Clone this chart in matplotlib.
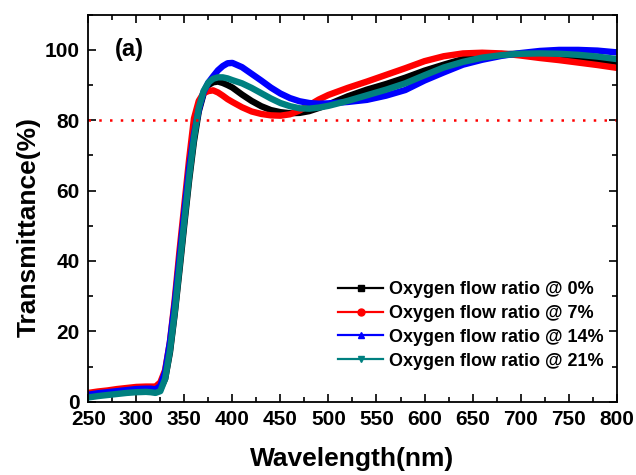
import matplotlib
matplotlib.use("Agg")
import matplotlib.pyplot as plt
from matplotlib.lines import Line2D
from matplotlib.ticker import MultipleLocator

plt.rcParams["font.family"] = ["Liberation Sans", "DejaVu Sans"]
plt.rcParams["font.weight"] = "bold"

# Data
wavelength = [250, 260, 270, 280, 290, 300, 310, 315, 320, 325, 330, 335, 340, 345,
              350, 355, 360, 365, 370, 375, 380, 385, 390, 395, 400, 410, 420, 430,
              440, 450, 460, 470, 480, 490, 500, 520, 540, 560, 580, 600, 620, 640,
              660, 680, 700, 720, 740, 760, 780, 800]

t_0 = [1.6, 2.0, 2.3, 2.6, 2.9, 3.1, 3.1, 3.1, 3.0, 3.6, 6.5, 14.0, 25.0, 37.5,
       50.5, 63.0, 74.0, 82.5, 87.5, 90.0, 90.8, 91.0, 90.6, 90.0, 89.3, 87.3, 85.5, 84.0,
       82.9, 82.3, 82.0, 82.1, 82.6, 83.5, 84.5, 86.8, 88.7, 90.3, 92.1, 94.1, 95.8, 97.4,
       98.3, 98.8, 98.9, 98.8, 98.3, 97.8, 97.2, 96.6]

t_7 = [2.5, 2.9, 3.2, 3.6, 3.9, 4.2, 4.3, 4.3, 4.3, 5.5, 9.0, 17.0, 29.0, 43.0,
       56.0, 69.0, 80.5, 85.5, 87.7, 88.3, 88.5, 87.9, 87.0, 86.0, 85.2, 83.7, 82.5, 81.8,
       81.4, 81.3, 81.7, 82.8, 84.3, 85.9, 87.2, 89.2, 91.0, 92.9, 94.8, 96.8, 98.2, 99.0,
       99.2, 99.0, 98.4, 97.7, 97.1, 96.4, 95.7, 94.9]

t_14 = [2.0, 2.4, 2.7, 3.0, 3.3, 3.6, 3.7, 3.7, 3.5, 4.5, 8.5, 17.0, 28.0, 41.0,
        54.0, 66.5, 76.0, 83.0, 88.0, 90.7, 92.5, 94.2, 95.4, 96.2, 96.3, 95.1, 93.2, 91.3,
        89.3, 87.6, 86.3, 85.4, 84.9, 84.7, 84.8, 85.2, 85.8, 87.0, 88.6, 91.3, 93.6, 95.8,
        97.2, 98.3, 99.1, 99.7, 100.0, 100.0, 99.8, 99.3]

t_21 = [1.2, 1.6, 1.9, 2.2, 2.5, 2.7, 2.8, 2.7, 2.5, 3.0, 6.5, 14.5, 25.5, 38.5,
        51.5, 64.0, 75.0, 83.5, 88.3, 90.7, 91.8, 92.2, 92.2, 91.9, 91.4, 90.5, 89.2, 87.7,
        86.2, 84.9, 84.0, 83.4, 83.3, 83.6, 84.1, 85.5, 87.1, 88.7, 90.5, 92.8, 95.0, 96.6,
        97.8, 98.5, 98.9, 99.0, 98.9, 98.6, 98.1, 97.4]

series = [
    ("Oxygen flow ratio @ 0%", t_0, "black", "s"),
    ("Oxygen flow ratio @ 7%", t_7, "#FF0000", "o"),
    ("Oxygen flow ratio @ 14%", t_14, "#0000FF", "^"),
    ("Oxygen flow ratio @ 21%", t_21, "#008080", "v"),
]

fig = plt.figure(figsize=(6.36, 4.75), dpi=100)
fig.patch.set_facecolor("white")
ax = fig.add_axes([0.1388, 0.1543, 0.8308, 0.8147])

for label, vals, col, mk in series:
    ax.plot(wavelength, vals, color=col, lw=4.6, solid_joinstyle="round",
            solid_capstyle="round")

# 80% reference line
ax.axhline(80, color="#FF0000", lw=1.8, dashes=(1, 3.3))

ax.set_xlim(250, 800)
ax.set_ylim(0, 110)
ax.xaxis.set_major_locator(MultipleLocator(50))
ax.xaxis.set_minor_locator(MultipleLocator(25))
ax.yaxis.set_minor_locator(MultipleLocator(10))
ax.set_yticks([0, 20, 40, 60, 80, 100])

ax.tick_params(which="both", direction="in", top=True, right=True, width=1.2)
ax.tick_params(which="major", length=6, labelsize=15, pad=6)
ax.tick_params(which="minor", length=3.5)
for lbl in ax.get_xticklabels() + ax.get_yticklabels():
    lbl.set_fontweight("bold")
for sp in ax.spines.values():
    sp.set_linewidth(1.3)

ax.set_xlabel("Wavelength(nm)", fontsize=19, fontweight="bold")
ax.set_ylabel("Transmittance(%)", fontsize=19, fontweight="bold")
ax.xaxis.set_label_coords(0.5, -0.118)
ax.yaxis.set_label_coords(-0.09, 0.451)

ax.text(293, 100.2, "(a)", fontsize=17, fontweight="bold", ha="center", va="center")

handles = [Line2D([], [], color=col, lw=1.6, marker=mk, ms=5)
           for _, _, col, mk in series]
labels = [s[0] for s in series]
leg = ax.legend(handles, labels, loc="upper left", bbox_to_anchor=(0.4726, 0.312),
                frameon=False, borderpad=0, borderaxespad=0, handlelength=2.5,
                handletextpad=0.3, labelspacing=0.38,
                prop={"size": 13, "weight": "bold"})

fig.savefig("out.png", dpi=100, facecolor=fig.get_facecolor())
